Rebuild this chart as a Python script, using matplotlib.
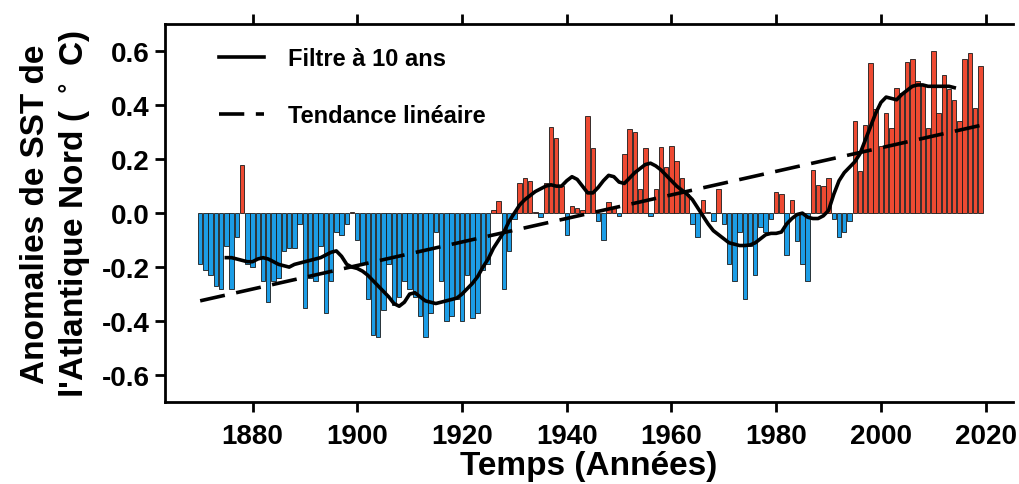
import numpy as np
import matplotlib
matplotlib.use("Agg")
import matplotlib.pyplot as plt

plt.rcParams['font.family'] = ['Liberation Sans', 'DejaVu Sans']
plt.rcParams['font.weight'] = 'bold'

# annual North Atlantic SST anomalies (deg C)
years = np.arange(1870, 2020)
anom = [
    -0.19, -0.21, -0.23, -0.27, -0.28, -0.12, -0.28, -0.09, 0.18, -0.19,   # 1870s
    -0.20, -0.17, -0.25, -0.33, -0.25, -0.24, -0.14, -0.13, -0.13, -0.04,  # 1880s
    -0.35, -0.24, -0.25, -0.12, -0.37, -0.25, -0.07, -0.08, -0.04, 0.005,  # 1890s
    -0.10, -0.19, -0.32, -0.45, -0.46, -0.36, -0.19, -0.34, -0.31, -0.25,  # 1900s
    -0.28, -0.31, -0.38, -0.46, -0.37, -0.07, -0.25, -0.40, -0.38, -0.32,  # 1910s
    -0.40, -0.23, -0.39, -0.37, -0.21, -0.19, 0.01, 0.045, -0.28, -0.14,   # 1920s
    -0.02, 0.11, 0.13, 0.12, 0.005, -0.015, 0.11, 0.32, 0.28, 0.10,        # 1930s
    -0.08, 0.025, 0.02, 0.01, 0.36, 0.24, -0.03, -0.10, 0.04, 0.02,        # 1940s
    -0.01, 0.22, 0.31, 0.30, 0.09, 0.24, -0.01, 0.09, 0.245, 0.17,         # 1950s
    0.25, 0.195, 0.13, 0.07, -0.04, -0.09, 0.05, 0.005, -0.03, 0.09,       # 1960s
    -0.04, -0.19, -0.25, -0.07, -0.32, -0.12, -0.23, -0.05, -0.07, -0.02,  # 1970s
    0.077, 0.07, -0.155, 0.047, -0.105, -0.19, -0.25, 0.16, 0.105, 0.10,   # 1980s
    0.13, -0.02, -0.09, -0.07, -0.03, 0.34, 0.155, 0.325, 0.555, 0.385,    # 1990s
    0.25, 0.37, 0.315, 0.465, 0.445, 0.56, 0.57, 0.49, 0.48, 0.315,        # 2000s
    0.60, 0.37, 0.51, 0.46, 0.42, 0.34, 0.57, 0.595, 0.39, 0.545,          # 2010s
]

# 10-year low-pass curve
filt_years = np.arange(1875, 2015)
filt_vals = [
    -0.165, -0.165, -0.17, -0.175, -0.18,
    -0.18, -0.17, -0.165, -0.17, -0.18, -0.19, -0.195, -0.20, -0.19, -0.185,
    -0.18, -0.175, -0.17, -0.165, -0.155, -0.145, -0.14, -0.16, -0.19, -0.20,
    -0.205, -0.215, -0.23, -0.25, -0.27, -0.29, -0.31, -0.335, -0.345, -0.33,
    -0.30, -0.295, -0.31, -0.325, -0.33, -0.335, -0.33, -0.325, -0.32, -0.315,
    -0.30, -0.28, -0.26, -0.235, -0.20, -0.17, -0.13, -0.10, -0.07, -0.03,
    0.0, 0.03, 0.05, 0.065, 0.08, 0.09, 0.10, 0.105, 0.10, 0.10,
    0.12, 0.135, 0.125, 0.10, 0.075, 0.075, 0.095, 0.12, 0.14, 0.135,
    0.115, 0.11, 0.13, 0.15, 0.165, 0.18, 0.185, 0.175, 0.16, 0.14,
    0.12, 0.10, 0.085, 0.07, 0.05, 0.02, -0.01, -0.04, -0.065, -0.08,
    -0.095, -0.11, -0.115, -0.12, -0.12, -0.118, -0.11, -0.095, -0.08, -0.075,
    -0.075, -0.07, -0.04, -0.02, -0.005, 0.0, -0.015, -0.02, -0.02, -0.01,
    0.01, 0.07, 0.12, 0.15, 0.17, 0.19, 0.22, 0.27, 0.32, 0.37,
    0.41, 0.43, 0.425, 0.42, 0.44, 0.455, 0.47, 0.475, 0.475, 0.47,
    0.47, 0.47, 0.47, 0.47, 0.465,
]

# linear trend end points
trend_years = [1870, 2019]
trend_vals = [-0.325, 0.325]

xticks = [1880, 1900, 1920, 1940, 1960, 1980, 2000, 2020]
yticks = [-0.6, -0.4, -0.2, 0.0, 0.2, 0.4, 0.6]

fig = plt.figure(figsize=(10.19, 4.85), dpi=100)
ax = fig.add_axes([0.162, 0.169, 0.832, 0.779])

anom = np.array(anom)
cols = np.where(anom >= 0, '#EE4A32', '#1C9DE6')
ax.bar(years, anom, width=0.85, color=cols, edgecolor='#1a1a1a', linewidth=0.6, zorder=2)

ax.plot(filt_years, filt_vals, color='black', lw=2.6, zorder=3, label='Filtre à 10 ans')
ax.plot(trend_years, trend_vals, color='black', lw=2.6, ls=(0, (7, 3.2)), zorder=3,
        label='Tendance linéaire')

ax.set_xlim(1863.3, 2025.2)
ax.set_ylim(-0.7, 0.7)
ax.set_xticks(xticks)
ax.set_yticks(yticks)
ax.set_yticklabels(['%.1f' % v for v in yticks])

for s in ['left', 'bottom', 'top']:
    ax.spines[s].set_linewidth(2)
ax.spines['right'].set_visible(False)
ax.tick_params(axis='x', which='both', top=True, direction='out', length=7, width=2,
               labelsize=20, pad=8)
ax.tick_params(axis='y', direction='out', length=7, width=2, labelsize=20, pad=4)

ax.set_xlabel('Temps (Années)', fontsize=24, fontweight='bold', labelpad=1)
ax.set_ylabel("Anomalies de SST de\nl'Atlantique Nord ( $^\\circ$ C)", fontsize=24,
              fontweight='bold', labelpad=6, linespacing=1.25)

leg = ax.legend(loc='upper left', frameon=False, prop={'size': 17, 'weight': 'bold'},
                handlelength=1.9, labelspacing=1.45, borderpad=0, borderaxespad=0,
                bbox_to_anchor=(0.064, 0.94), handletextpad=1.0)

fig.savefig('out.png', dpi=100)
